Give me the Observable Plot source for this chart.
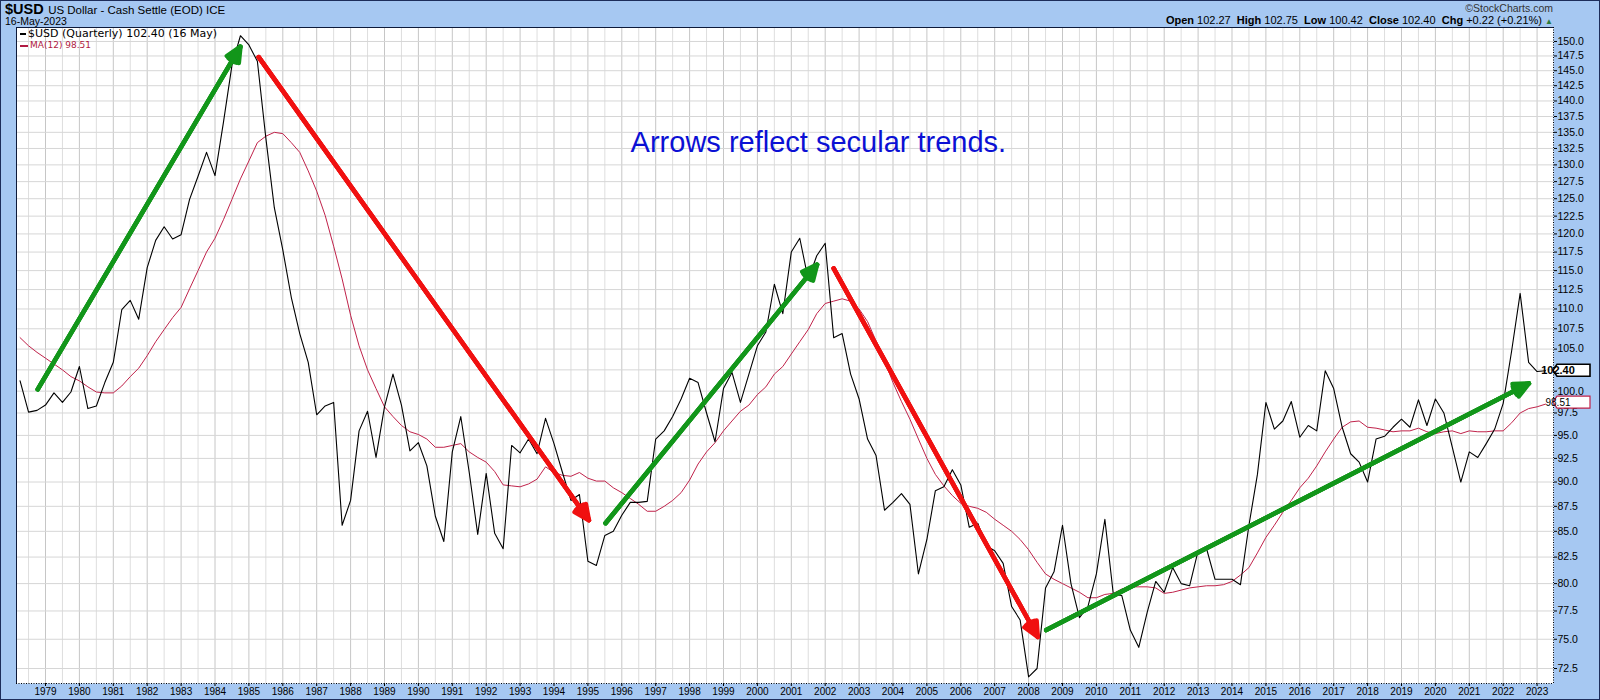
<!DOCTYPE html>
<html>
<head>
<meta charset="utf-8">
<script src="https://cdn.jsdelivr.net/npm/d3@7"></script>
<script src="https://cdn.jsdelivr.net/npm/@observablehq/plot@0.6"></script>
<style>
  html, body { margin: 0; padding: 0; }
  body { width: 1600px; height: 700px; overflow: hidden; background: #a6c8f2; font-family: "Liberation Sans", Arial, sans-serif; }
  #wrap { position: relative; width: 1600px; height: 700px; }
  #chart { position: absolute; left: 0; top: 0; }
  .abs { position: absolute; white-space: nowrap; color: #000; }
  #border { position: absolute; left: 0; top: 0; width: 1600px; height: 700px; box-sizing: border-box; border: 1px solid #1d2d5a; pointer-events: none; }
  .leg { font-family: "DejaVu Sans", Verdana, sans-serif; }
  .mk { display: inline-block; vertical-align: middle; height: 2px; margin-right: 2px; }
</style>
</head>
<body>
<div id="wrap">
  <div id="chart"></div>
  <div class="abs" style="left:5px; top:1px; line-height:16px;"><b style="font-size:14.5px;">$USD</b> <span style="font-size:11.5px;">US Dollar - Cash Settle (EOD) ICE</span></div>
  <div class="abs" style="left:5px; top:15px; font-size:10.5px; line-height:12px;">16-May-2023</div>
  <div class="abs" style="right:47px; top:2px; font-size:10.5px; line-height:12px; color:#333;">©StockCharts.com</div>
  <div class="abs" style="right:47px; top:14px; font-size:11px; line-height:13px;"><b>Open</b> 102.27&nbsp; <b>High</b> 102.75&nbsp; <b>Low</b> 100.42&nbsp; <b>Close</b> 102.40&nbsp; <b>Chg</b> +0.22 (+0.21%) <span style="color:#2a7a3a; font-size:8px;">▲</span></div>
  <div class="abs leg" style="left:20px; top:28px; font-size:11px; line-height:12px;"><span class="mk" style="width:6px; background:#000;"></span>$USD (Quarterly) 102.40 (16 May)</div>
  <div class="abs leg" style="left:20px; top:40px; font-size:9px; line-height:10px; color:#b01a42;"><span class="mk" style="width:8px; background:#b01a42;"></span>MA(12) 98.51</div>
  <div id="border"></div>
</div>
<script>
// ---- Data (quarterly closes, starting Q2 1978) ----
const firstQuarter = 1978.25; // Q2 1978 as fractional year
const closes = [
  101.2, 97.6, 97.8,               // 1978 Q2-Q4
  98.4, 99.8, 98.7, 99.9,          // 1979
  102.9, 98.0, 98.3, 101.0,        // 1980
  103.4, 109.9, 111.1, 108.7,      // 1981
  115.4, 119.1, 121.0, 119.3,      // 1982
  119.9, 124.9, 128.3, 131.9,      // 1983
  128.4, 136.6, 145.9, 151.0,      // 1984
  149.4, 146.6, 134.1, 123.7,      // 1985
  117.8, 111.5, 106.9, 103.4,      // 1986
  97.3, 98.3, 98.7, 85.6,          // 1987
  88.1, 95.5, 97.7, 92.6,          // 1988
  98.2, 102.0, 98.4, 93.3,         // 1989
  94.2, 91.7, 86.5, 84.0,          // 1990
  93.2, 97.1, 91.0, 84.7,          // 1991
  90.9, 84.8, 83.3, 93.9,          // 1992
  93.1, 94.6, 93.0, 96.9,          // 1993
  94.1, 91.0, 88.1, 88.7,          // 1994
  82.1, 81.7, 84.6, 85.0,          // 1995
  86.6, 87.9, 87.9, 88.0,          // 1996
  94.6, 95.5, 97.1, 99.1,          // 1997
  101.5, 101.0, 97.5, 94.3,        // 1998
  100.3, 102.2, 98.7, 102.0,       // 1999
  105.4, 107.1, 113.2, 109.4,      // 2000
  117.5, 119.4, 113.8, 117.0,      // 2001
  118.7, 106.4, 106.9, 102.0,      // 2002
  99.1, 94.6, 92.8, 87.1,          // 2003
  87.9, 88.8, 87.7, 80.9,          // 2004
  84.2, 89.1, 89.5, 91.3,          // 2005
  89.7, 85.4, 85.8, 83.6,          // 2006
  83.1, 81.9, 77.9, 76.7,          // 2007
  71.8, 72.5, 79.6, 81.1,          // 2008
  85.6, 80.0, 76.9, 77.9,          // 2009
  80.9, 86.2, 79.0, 78.9,          // 2010
  75.8, 74.3, 77.4, 80.2,          // 2011
  79.2, 81.5, 80.0, 79.8,          // 2012
  83.1, 83.3, 80.4, 80.4,          // 2013
  80.4, 79.9, 85.6, 90.8,          // 2014
  98.7, 95.7, 96.6, 98.8,          // 2015
  94.8, 96.1, 95.5, 102.4,         // 2016
  100.3, 95.9, 93.0, 92.1,         // 2017
  90.0, 94.6, 94.9, 95.9,          // 2018
  96.8, 95.9, 99.0, 96.1,          // 2019
  99.1, 97.5, 93.7, 90.0,          // 2020
  93.2, 92.6, 94.1, 95.7,          // 2021
  98.6, 104.8, 112.0, 103.4,       // 2022
  102.3, 102.4                     // 2023 Q1-Q2
];
// ---- MA(12) as drawn on the chart ----
const ma12 = [
  106.4, 105.4, 104.6,
  103.9, 103.2, 102.5, 101.7,
  101.2, 100.5, 99.9, 99.8,
  99.8, 100.6, 101.7, 102.7,
  104.2, 105.9, 107.4, 108.9,
  110.2, 112.6, 115.0, 117.5,
  119.4, 122.0, 124.9, 127.9,
  130.6, 133.4, 134.4, 135.0,
  134.8, 133.4, 131.9, 129.1,
  126.1, 122.6, 118.3, 113.9,
  109.2, 105.4, 102.5, 100.3,
  98.2, 97.1, 96.1, 95.4,
  95.1, 94.6, 93.7, 93.7,
  93.9, 94.1, 93.2, 92.6,
  92.1, 91.1, 89.7, 89.6,
  89.5, 89.8, 90.3, 91.6,
  91.0, 90.7, 90.6, 91.0,
  90.4, 90.1, 90.1, 89.4,
  88.9, 88.3, 87.7, 87.0,
  87.0, 87.5, 88.1, 88.9,
  90.2, 91.9, 93.2, 94.2,
  95.5, 96.6, 97.7, 98.4,
  99.6, 100.5, 102.0, 102.9,
  104.4, 105.9, 107.4, 109.4,
  110.7, 111.0, 111.3, 111.0,
  110.0, 108.4, 106.0, 103.6,
  101.0, 98.8, 96.8, 94.6,
  92.5, 90.8, 89.6, 88.6,
  87.8, 87.5, 87.3, 86.9,
  86.2, 85.6, 85.0, 84.2,
  83.2, 82.0, 80.9, 80.4,
  80.0, 79.6, 79.2, 78.7,
  78.7, 79.0, 79.1, 79.5,
  79.7, 79.7, 79.7, 79.6,
  79.1, 79.2, 79.4, 79.6,
  79.7, 79.8, 79.8, 79.9,
  80.2, 80.8, 81.5, 82.9,
  84.4, 85.6, 86.9, 88.1,
  89.4, 90.4, 91.7, 93.2,
  94.6, 95.9, 96.5, 96.6,
  95.9, 95.8, 95.6, 95.4,
  95.5, 95.5, 95.8, 95.4,
  95.2, 95.4, 95.5, 95.2,
  95.5, 95.4, 95.4, 95.5,
  95.5, 96.4, 97.5, 98.0,
  98.2, 98.51
];
const yearTicks = d3.range(1979, 2024);
const halfYearLines = d3.range(1978.5, 2023.01, 1);
const priceTicks = d3.range(0, 32).map(i => 72.5 + 2.5 * i);
const lastClose = 102.40, lastMA = 98.51;

// Trend arrows (start date, start value, end date, end value)
const trendArrows = [
  {t1: 1978.77, v1: 100.2, t2: 1984.75, v2: 149.1, dir: "up"},
  {t1: 1985.29, v1: 147.3, t2: 1995.03, v2: 86.1, dir: "down"},
  {t1: 1995.52, v1: 85.8, t2: 2001.76, v2: 115.8, dir: "up"},
  {t1: 2002.25, v1: 115.3, t2: 2008.27, v2: 75.2, dir: "down"},
  {t1: 2008.52, v1: 75.8, t2: 2022.76, v2: 100.9, dir: "up"}
];
const note = [{t: 1996.26, v: 133.4, text: "Arrows reflect secular trends."}];

// ---- Build tables ----
const closeRows = closes.map((v, i) => ({t: firstQuarter + i / 4, v}));
const maRows = ma12.map((v, i) => ({t: firstQuarter + i / 4, v}));
const xDomain = [1978.1445, 2023.484];
const yDomain = [71.25, 152.45];
const arrowColor = d => d.dir === "up" ? "#12961a" : "#f01010";
// the 102.5 label sits under the last-close badge in the original, so it is not printed
const labelTicks = priceTicks.filter(v => v !== 102.5);

const arrowMarks = [50, 32, 16].map(angle =>
  Plot.arrow(trendArrows, {
    x1: "t1", y1: "v1", x2: "t2", y2: "v2",
    stroke: arrowColor, strokeWidth: 4.5, headLength: 5.5, headAngle: angle
  })
);

const plot = Plot.plot({
  width: 1600,
  height: 700,
  marginLeft: 16,
  marginRight: 47,
  marginTop: 27,
  marginBottom: 17,
  x: {type: "linear", domain: xDomain},
  y: {type: "log", domain: yDomain},
  style: {background: "transparent", fontFamily: "Liberation Sans, Arial, sans-serif", overflow: "visible"},
  marks: [
    Plot.frame({fill: "white", stroke: null}),
    Plot.gridX(halfYearLines, {stroke: "#dedede", strokeOpacity: 1}),
    Plot.gridX(yearTicks, {stroke: "#c6c6c6", strokeOpacity: 1}),
    Plot.gridY(priceTicks, {stroke: "#d6d6d6", strokeOpacity: 1}),
    Plot.lineY(maRows, {x: "t", y: "v", stroke: "#c0224a", strokeWidth: 1}),
    Plot.lineY(closeRows, {x: "t", y: "v", stroke: "#000", strokeWidth: 1.1}),
    ...arrowMarks,
    Plot.text(note, {x: "t", y: "v", text: "text", fill: "#0b10d4", fontSize: 29, textAnchor: "start", fontFamily: "Liberation Sans, Arial, sans-serif"}),
    Plot.ruleX([xDomain[0]], {stroke: "#0d1a3a", strokeWidth: 1}),
    Plot.ruleY([yDomain[1]], {stroke: "#0d1a3a", strokeWidth: 1}),
    Plot.ruleX([xDomain[1]], {stroke: "#000", strokeWidth: 1, strokeDasharray: "1,1.5"}),
    Plot.ruleY([yDomain[0]], {stroke: "#000", strokeWidth: 1, strokeDasharray: "1,1.5"}),
    Plot.axisY(labelTicks, {anchor: "right", tickFormat: d => d.toFixed(1), tickSize: 3, tickPadding: 1, fontSize: 10.5, label: null}),
    Plot.axisX(yearTicks, {anchor: "bottom", tickFormat: d => String(d), tickSize: 3, tickPadding: 1, fontSize: 10, label: null})
  ]
});
document.getElementById("chart").appendChild(plot);

// ---- Value badges on the price axis ----
const xs = plot.scale("x"), ys = plot.scale("y");
const svg = d3.select(plot);
const xr = xs.apply(xDomain[1]);
function badge(value, label, stroke, bold, lift) {
  const y = ys.apply(value) - lift;
  const g = svg.append("g");
  g.append("path")
    .attr("d", `M${xr},${y} L${xr + 4},${y - 6} H${xr + 37} V${y + 6} H${xr + 4} Z`)
    .attr("fill", "white").attr("stroke", stroke).attr("stroke-width", bold ? 1.6 : 1.2);
  g.append("text")
    .attr("x", xr + 5).attr("y", y + 3.5)
    .attr("font-size", bold ? 11 : 10).attr("font-weight", bold ? "bold" : "normal")
    .attr("font-family", "Liberation Sans, Arial, sans-serif")
    .attr("fill", "#000").text(label);
}
badge(lastClose, lastClose.toFixed(2), "#000", true, 0);
badge(lastMA, lastMA.toFixed(2), "#c0224a", false, 1.5);
</script>
</body>
</html>
